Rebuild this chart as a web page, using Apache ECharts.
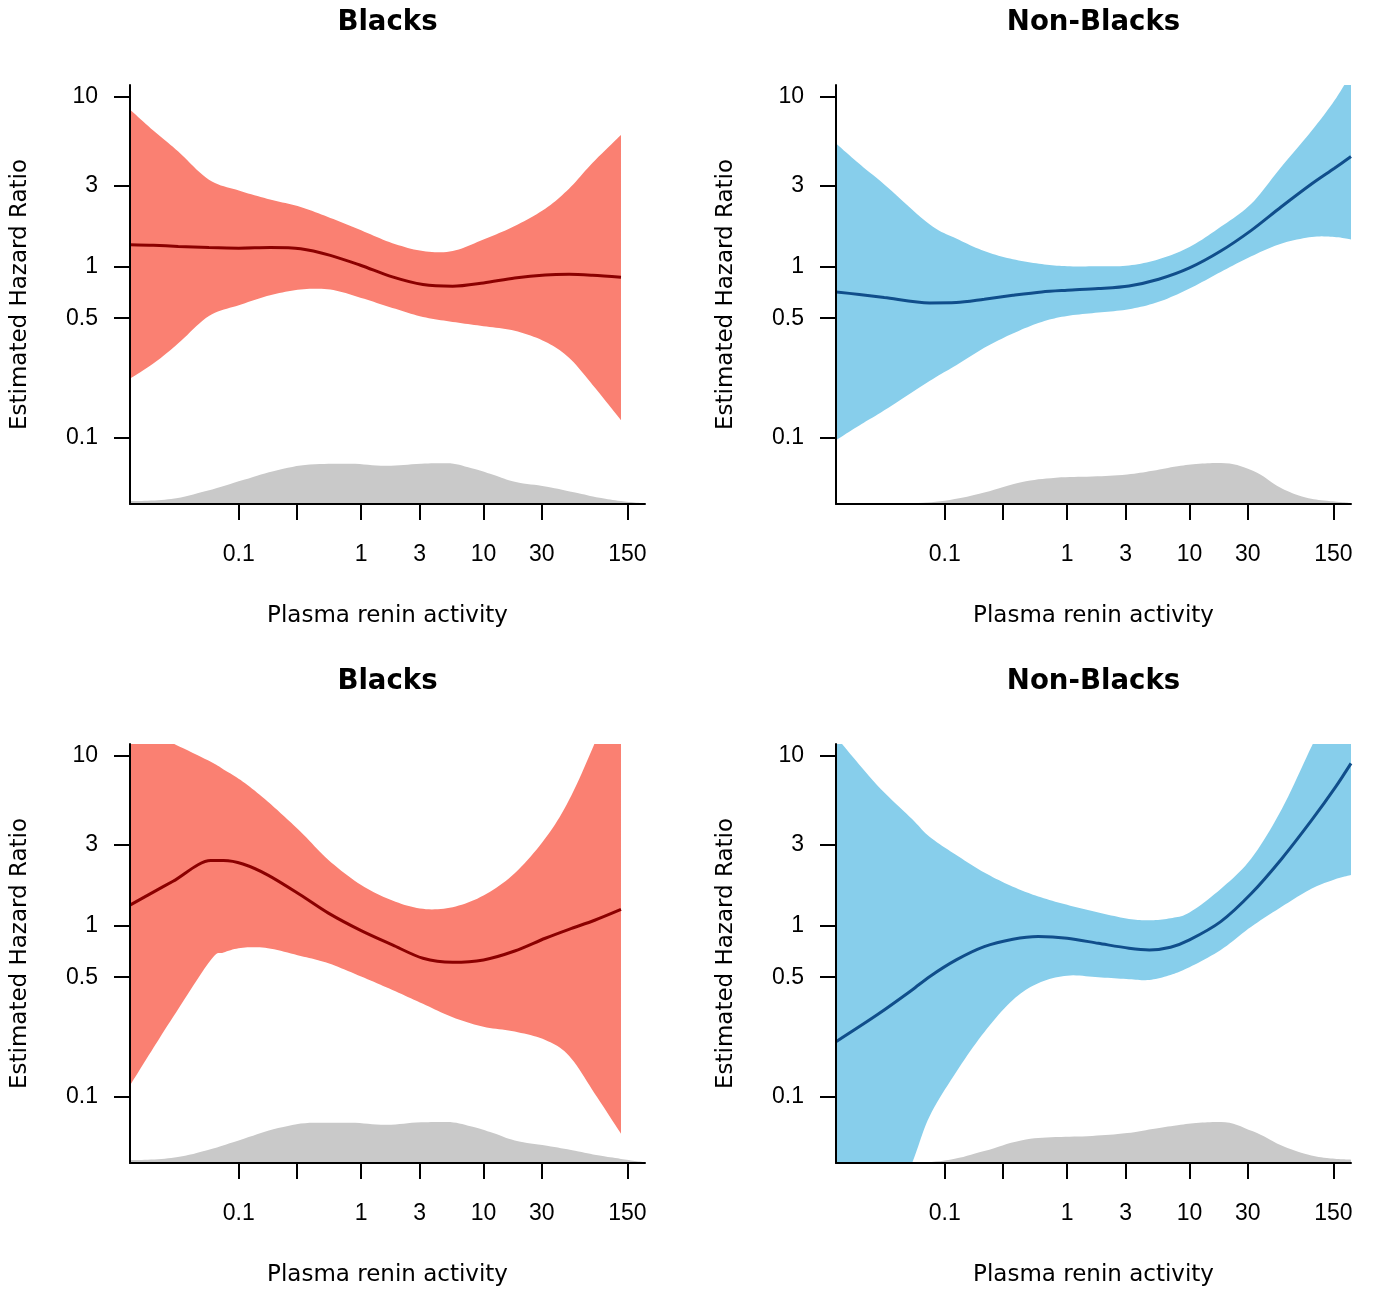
<!DOCTYPE html>
<html><head><meta charset="utf-8">
<script src="https://cdn.jsdelivr.net/npm/echarts@6/dist/echarts.min.js"></script>
<style>html,body{margin:0;padding:0;background:#fff}#chart{width:1373px;height:1296px}</style>
</head><body><div id="chart"></div>
<script>
// ---------- data ----------
const panelTitles = ['Blacks', 'Non-Blacks', 'Blacks', 'Non-Blacks'];
const xAxisTitle = 'Plasma renin activity';
const yAxisTitle = 'Estimated Hazard Ratio';
const xTickValues = [0.1, 0.3, 1, 3, 10, 30, 150];
const xLabelValues = [0.1, 1, 3, 10, 30, 150];
const yTickValues = [0.1, 0.5, 1, 3, 10];
const xRange = [0.0129, 209];
const yRange = [0.0406, 11.7];

// Panel 1: Blacks (top)
const pra1 = [0.013, 0.02, 0.032, 0.057, 0.1, 0.18, 0.32, 0.56, 1, 1.8, 3.2, 5.6, 10, 18, 32, 50, 78, 133];
const upper1 = [8.35, 6.32, 4.76, 3.25, 2.81, 2.49, 2.25, 1.94, 1.64, 1.38, 1.24, 1.24, 1.45, 1.74, 2.20, 2.88, 4.09, 5.96];
const lower1 = [0.222, 0.271, 0.356, 0.516, 0.596, 0.682, 0.737, 0.737, 0.658, 0.575, 0.509, 0.476, 0.449, 0.422, 0.364, 0.293, 0.203, 0.126];
const est1 = [1.35, 1.34, 1.32, 1.30, 1.29, 1.30, 1.28, 1.17, 1.02, 0.874, 0.788, 0.770, 0.806, 0.862, 0.898, 0.906, 0.894, 0.870];

// Panel 2: Non-Blacks (top)
const pra2 = [0.013, 0.02, 0.032, 0.075, 0.124, 0.21, 0.36, 0.62, 1, 1.8, 3.2, 5.6, 10, 18, 32, 56, 100, 153, 209];
const upper2 = [5.28, 4.03, 3.05, 1.78, 1.47, 1.24, 1.11, 1.04, 1.01, 1.01, 1.02, 1.11, 1.31, 1.72, 2.35, 3.85, 6.32, 9.48, 13.6];
const lower2 = [0.0965, 0.1175, 0.144, 0.214, 0.265, 0.335, 0.407, 0.476, 0.516, 0.540, 0.565, 0.624, 0.747, 0.935, 1.155, 1.37, 1.50, 1.50, 1.45];
const est2 = [0.714, 0.689, 0.661, 0.615, 0.618, 0.647, 0.682, 0.714, 0.730, 0.747, 0.774, 0.847, 0.987, 1.24, 1.64, 2.25, 3.08, 3.80, 4.45];

// Panel 3: Blacks (bottom)
const pra3 = [0.013, 0.02, 0.029, 0.059, 0.075, 0.108, 0.173, 0.32, 0.54, 1, 1.8, 3.2, 5.6, 10, 18, 32, 50, 81, 133];
const upper3 = [15.7, 13.4, 11.8, 9.2, 8.3, 7.03, 5.36, 3.57, 2.44, 1.74, 1.41, 1.26, 1.29, 1.51, 2.04, 3.27, 5.48, 11.8, 28.4];
const lower3 = [0.117, 0.192, 0.292, 0.632, 0.698, 0.746, 0.740, 0.667, 0.604, 0.505, 0.421, 0.349, 0.291, 0.256, 0.240, 0.214, 0.173, 0.104, 0.0603];
const est3 = [1.33, 1.58, 1.83, 2.42, 2.42, 2.31, 1.99, 1.52, 1.19, 0.939, 0.774, 0.646, 0.612, 0.632, 0.713, 0.847, 0.956, 1.08, 1.25];

// Panel 4: Non-Blacks (bottom)
const pra4 = [0.013, 0.028, 0.054, 0.075, 0.124, 0.21, 0.36, 0.58, 1, 1.8, 3.2, 4.7, 7, 10, 18, 32, 57, 100, 155, 209];
const upper4 = [12.8, 6.71, 4.24, 3.34, 2.61, 2.06, 1.70, 1.49, 1.33, 1.20, 1.10, 1.08, 1.11, 1.20, 1.65, 2.49, 4.88, 11.4, 21.4, 34];
const lower4 = [0.0029, 0.0122, 0.0405, 0.0762, 0.139, 0.238, 0.368, 0.461, 0.511, 0.500, 0.487, 0.482, 0.516, 0.573, 0.723, 0.991, 1.30, 1.66, 1.88, 1.99];
const est4 = [0.210, 0.301, 0.421, 0.504, 0.632, 0.756, 0.835, 0.866, 0.847, 0.791, 0.740, 0.723, 0.750, 0.828, 1.06, 1.55, 2.49, 4.19, 6.48, 9.0];

// Distribution of plasma renin activity (relative density)
const densPRA = [0.013, 0.028, 0.055, 0.11, 0.21, 0.42, 0.81, 1.6, 3.1, 5, 8, 12, 18, 33, 56, 89, 133, 209];
const dens1 = [0.07, 0.12, 0.32, 0.59, 0.83, 0.97, 0.98, 0.93, 0.98, 0.99, 0.87, 0.71, 0.54, 0.42, 0.28, 0.15, 0.07, 0.01];
const dens2 = [0, 0, 0.02, 0.10, 0.28, 0.53, 0.64, 0.67, 0.72, 0.81, 0.92, 0.98, 1.0, 0.81, 0.39, 0.16, 0.08, 0.03];
const dens3 = [0.07, 0.12, 0.31, 0.59, 0.85, 0.98, 0.98, 0.93, 0.99, 1.0, 0.89, 0.73, 0.55, 0.42, 0.30, 0.18, 0.10, 0.02];
const dens4 = [0, 0, 0.01, 0.08, 0.29, 0.55, 0.63, 0.66, 0.73, 0.83, 0.92, 0.98, 1.0, 0.77, 0.43, 0.22, 0.12, 0.08];

// ---------- styling / layout ----------
const NUMFONT = '"Liberation Sans", Arial, Helvetica, sans-serif';
const TXTFONT = '"DejaVu Sans", "Liberation Sans", sans-serif';
const gridPos = [[130, 85], [836, 85], [130, 744], [836, 744]];
const GW = 515, GH = 419;
const densMax = 10.2;
const panels = [
  {pra: pra1, up: upper1, lo: lower1, est: est1, dens: dens1, fill: '#FA8072', line: '#8B0000'},
  {pra: pra2, up: upper2, lo: lower2, est: est2, dens: dens2, fill: '#87CEEB', line: '#104E8B'},
  {pra: pra3, up: upper3, lo: lower3, est: est3, dens: dens3, fill: '#FA8072', line: '#8B0000'},
  {pra: pra4, up: upper4, lo: lower4, est: est4, dens: dens4, fill: '#87CEEB', line: '#104E8B'}
];

const L = v => Math.log10(v);
const labelFor = (vals) => (v) => {
  for (const t of vals) if (Math.abs(L(t) - v) < 1e-6) return String(t);
  return '';
};

// Catmull-Rom rendering of a curve through pixel points (drawing only)
function smoothPts(pts, seg) {
  const out = [], n = pts.length;
  for (let i = 0; i < n - 1; i++) {
    const p0 = pts[Math.max(i - 1, 0)], p1 = pts[i], p2 = pts[i + 1], p3 = pts[Math.min(i + 2, n - 1)];
    for (let s = 0; s < seg; s++) {
      const t = s / seg, t2 = t * t, t3 = t2 * t;
      const f = (a, b, c, d) => 0.5 * (2 * b + (-a + c) * t + (2 * a - 5 * b + 4 * c - d) * t2 + (-a + 3 * b - 3 * c + d) * t3);
      out.push([f(p0[0], p1[0], p2[0], p3[0]), f(p0[1], p1[1], p2[1], p3[1])]);
    }
  }
  out.push(pts[n - 1]);
  return out;
}

function bandRenderer(color) {
  return function (params, api) {
    if (params.dataIndexInside !== 0) return null;
    const n = params.dataInsideLength;
    const up = [], lo = [];
    for (let k = 0; k < n; k++) {
      const x = api.value(0, k);
      lo.push(api.coord([x, api.value(1, k)]));
      up.push(api.coord([x, api.value(2, k)]));
    }
    const pts = smoothPts(up, 10).concat(smoothPts(lo, 10).reverse());
    const cs = params.coordSys;
    return {
      type: 'polygon',
      shape: {points: pts},
      style: {fill: color, stroke: null},
      clipPath: {type: 'rect', shape: {x: cs.x, y: cs.y, width: cs.width, height: cs.height}}
    };
  };
}

const grid = [], xAxis = [], yAxis = [], series = [], title = [];
panels.forEach((p, i) => {
  const [gx, gy] = gridPos[i];
  grid.push({left: gx, top: gy, width: GW, height: GH, containLabel: false});
  title.push({
    text: panelTitles[i], left: gx + GW / 2, top: gy - 76, textAlign: 'center', padding: 0,
    textStyle: {fontSize: 27.6, fontWeight: 'bold', color: '#000', fontFamily: TXTFONT}
  });
  xAxis.push({
    type: 'value', gridIndex: i, min: L(xRange[0]), max: L(xRange[1]), z: 5,
    name: xAxisTitle, nameLocation: 'middle', nameGap: 101,
    nameTextStyle: {fontSize: 23, color: '#000', fontFamily: TXTFONT},
    axisLine: {show: true, onZero: false, lineStyle: {color: '#000', width: 2}},
    axisTick: {show: true, length: 16, customValues: xTickValues.map(L), lineStyle: {color: '#000', width: 2}},
    axisLabel: {show: true, margin: 39, fontSize: 23, color: '#000', fontFamily: NUMFONT,
      customValues: xLabelValues.map(L), formatter: labelFor(xLabelValues)},
    splitLine: {show: false}
  });
  yAxis.push({
    type: 'value', gridIndex: i, min: L(yRange[0]), max: L(yRange[1]), z: 5,
    name: yAxisTitle, nameLocation: 'middle', nameGap: 98, nameRotate: 90,
    nameTextStyle: {fontSize: 23, color: '#000', fontFamily: TXTFONT},
    axisLine: {show: true, onZero: false, lineStyle: {color: '#000', width: 2}},
    axisTick: {show: true, length: 16, customValues: yTickValues.map(L), lineStyle: {color: '#000', width: 2}},
    axisLabel: {show: true, margin: 32, fontSize: 23, color: '#000', fontFamily: NUMFONT,
      customValues: yTickValues.map(L), formatter: labelFor(yTickValues)},
    splitLine: {show: false}
  });
  yAxis.push({type: 'value', gridIndex: i, min: 0, max: densMax, show: false});
  const yi = i * 2;
  // density of PRA
  series.push({
    type: 'line', xAxisIndex: i, yAxisIndex: yi + 1, symbol: 'none', smooth: 0.4, z: 1,
    lineStyle: {width: 0}, areaStyle: {color: '#C9C9C9', opacity: 1},
    data: densPRA.map((x, k) => [L(x), p.dens[k]])
  });
  // confidence band
  series.push({
    type: 'custom', xAxisIndex: i, yAxisIndex: yi, z: 2, clip: true,
    renderItem: bandRenderer(p.fill),
    encode: {x: 0, y: [1, 2]},
    data: p.pra.map((x, k) => [L(x), L(p.lo[k]), L(p.up[k])])
  });
  // hazard ratio estimate
  series.push({
    type: 'line', xAxisIndex: i, yAxisIndex: yi, symbol: 'none', smooth: 0.3, z: 3,
    lineStyle: {color: p.line, width: 3},
    data: p.pra.map((x, k) => [L(x), L(p.est[k])])
  });
});

const chart = echarts.init(document.getElementById('chart'), null, {renderer: 'canvas'});
chart.setOption({animation: false, backgroundColor: '#fff', title, grid, xAxis, yAxis, series});
</script></body></html>
